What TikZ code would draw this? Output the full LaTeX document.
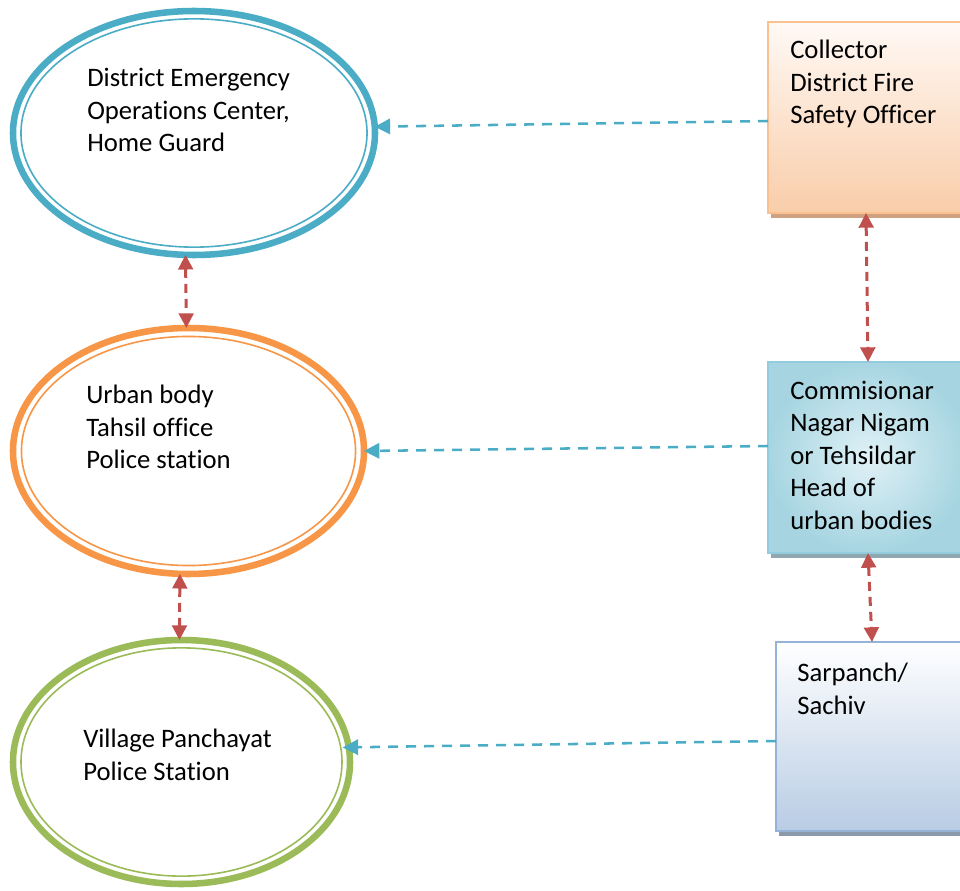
\documentclass[tikz,border=0pt]{standalone}
\usepackage{fontspec}
\setmainfont{Carlito}[Ligatures={NoCommon,NoContextual,NoRare},Contextuals={NoAlternate}]
\usetikzlibrary{arrows.meta,calc,shapes.geometric}
\definecolor{eblue}{HTML}{4BACC6}
\definecolor{eorange}{HTML}{F79646}
\definecolor{egreen}{HTML}{9BBB59}
\definecolor{ared}{HTML}{C0504D}
\definecolor{ablue}{HTML}{4BACC6}
\definecolor{bAtop}{HTML}{FFF9F5}
\definecolor{bAbot}{HTML}{F9CDA9}
\definecolor{bAline}{HTML}{FAC090}
\definecolor{bAshadow}{HTML}{CFA181}
\definecolor{bBin}{HTML}{E0F1F6}
\definecolor{bBout}{HTML}{A6D5E1}
\definecolor{bBline}{HTML}{93CDDD}
\definecolor{bBshadow}{HTML}{8FA7AE}
\definecolor{bCtop}{HTML}{FFFFFF}
\definecolor{bCbot}{HTML}{B8CCE4}
\definecolor{bCline}{HTML}{95B3D7}
\definecolor{bCshadow}{HTML}{8C99AB}
\begin{document}
\begin{tikzpicture}[x=0.75pt,y=-0.75pt,
  ell/.style={ellipse, draw, line width=4.9pt, inner sep=0pt, outer sep=0pt, fill=white},
  txt/.style={anchor=west, align=left, inner sep=0pt, font=\fontsize{20}{24.4}\selectfont},
  boxnode/.style={rectangle, draw, line width=1.5pt, inner sep=0pt, outer sep=0pt, anchor=north west},
  redarr/.style={ared, line width=2.25pt, dash pattern=on 6.75pt off 4.5pt,
    {Triangle[length=11pt,width=11pt]}-{Triangle[length=11pt,width=11pt]}},
  bluearr/.style={ablue, line width=1.9pt, dash pattern=on 7.5pt off 6pt,
    -{Triangle[length=11.5pt,width=11.5pt]}}
]
\useasboundingbox (0,0) rectangle (960,891);

% ellipses
\node[ell, draw=eblue, minimum width=271.5pt, minimum height=183pt] (e1) at (194,133) {};
\draw[eblue, line width=1.2pt] (e1.center) ellipse [x radius=129.8pt, y radius=85.6pt];
\node[ell, draw=eorange, minimum width=263.25pt, minimum height=184.5pt] (e2) at (188.5,451) {};
\draw[eorange, line width=1.2pt] (e2.center) ellipse [x radius=125.3pt, y radius=85.9pt];
\node[ell, draw=egreen, minimum width=252.75pt, minimum height=183pt] (e3) at (181.5,762) {};
\draw[egreen, line width=1.2pt] (e3.center) ellipse [x radius=120.4pt, y radius=85.6pt];

\node[txt] (t1) at (87,110) {District Emergency\\Operations Center,\\Home Guard};
\node[txt] (t2) at (86,427) {Urban body\\Tahsil office\\Police station};
\node[txt] (t3) at (83,755) {Village Panchayat\\Police Station};

% boxes
\node[boxnode, draw=bAline, top color=bAtop, bottom color=bAbot,
  preaction={draw=none, fill=bAshadow, transform canvas={xshift=2.25pt,yshift=-3.75pt}},
  minimum width=147pt, minimum height=143.25pt] (box1) at (768,22) {};
\node[boxnode, draw=bBline, inner color=bBin, outer color=bBout,
  preaction={draw=none, fill=bBshadow, transform canvas={xshift=2.25pt,yshift=-3.75pt}},
  minimum width=150pt, minimum height=143.25pt] (box2) at (768,362) {};
\node[boxnode, draw=bCline, top color=bCtop, bottom color=bCbot,
  preaction={draw=none, fill=bCshadow, transform canvas={xshift=2.25pt,yshift=-3.75pt}},
  minimum width=144pt, minimum height=141.75pt] (box3) at (776,642) {};

\node[txt] (t4) at (790,84) {Collector\\District Fire\\Safety Officer};
\node[txt] (t5) at (790,455) {Commisionar\\Nagar Nigam\\or Tehsildar\\Head of\\urban bodies};
\node[txt] (t6) at (797,689) {Sarpanch/\\Sachiv};

% connectors
\draw[redarr] (e1.266) -- (e2.91);
\draw[redarr] (e2.266) -- (e3.91);
\draw[redarr] (box1.south) -- (box2.north);
\draw[redarr] (box2.south) -- (box3.north);
\draw[bluearr] ($(box1.west)+(0,3.5)$) -- (e1.2);
\draw[bluearr] ($(box2.west)+(0,-11.5)$) -- (e2.east);
\draw[bluearr, shorten >=-4.5pt] ($(box3.west)+(0,4.5)$) -- (e3.5);
\end{tikzpicture}
\end{document}
